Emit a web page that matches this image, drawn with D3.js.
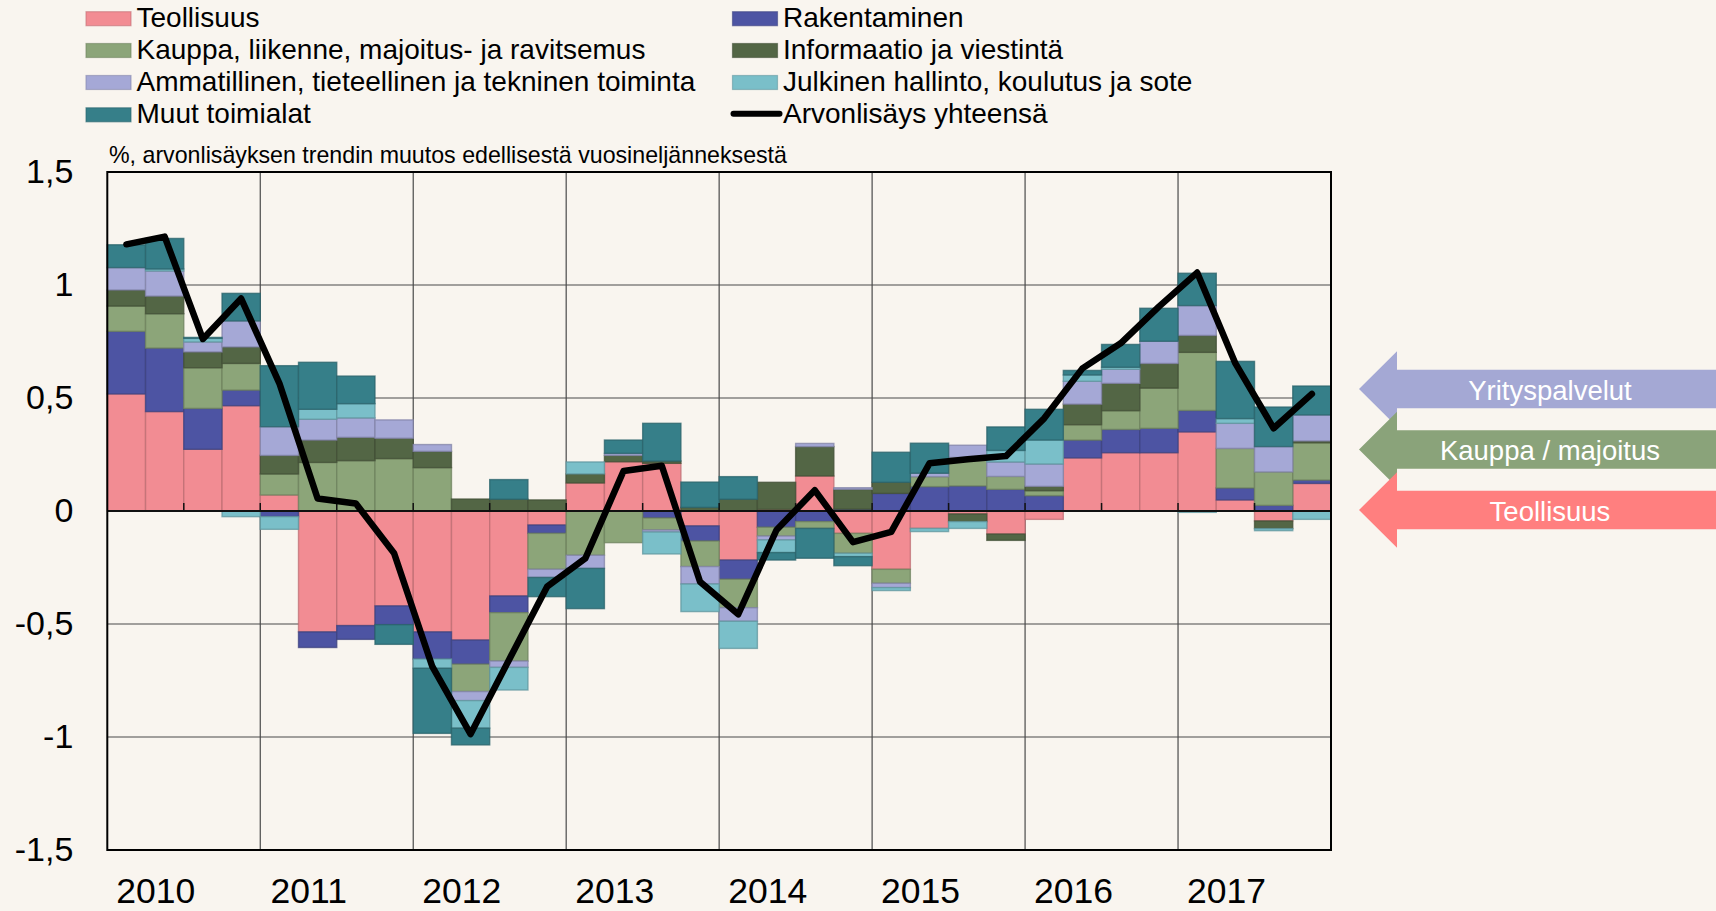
<!DOCTYPE html>
<html><head><meta charset="utf-8">
<script src="https://cdn.jsdelivr.net/npm/d3@7"></script>
<style>
body{margin:0;background:#F9F5EF}
svg{display:block}
text{font-family:"Liberation Sans",Arial,sans-serif;fill:#000}
</style>
</head><body>
<svg id="c" width="1716" height="911"></svg>
<script>
// ---- data ----
const years = ["2010","2011","2012","2013","2014","2015","2016","2017"];
const quarters = years.flatMap(y => ["Q1","Q2","Q3","Q4"].map(q => y + q));

const seriesNames = [
  "Teollisuus",
  "Rakentaminen",
  "Kauppa, liikenne, majoitus- ja ravitsemus",
  "Informaatio ja viestintä",
  "Ammatillinen, tieteellinen ja tekninen toiminta",
  "Julkinen hallinto, koulutus ja sote",
  "Muut toimialat"
];
const lineName = "Arvonlisäys yhteensä";

const teollisuus   = [0.518,0.44,0.273,0.466,0.071,-0.535,-0.507,-0.42,-0.535,-0.571,-0.376,-0.062,0.124,0.218,0.211,-0.066,-0.217,0.007,0.155,-0.099,-0.258,-0.077,-0.013,-0.102,-0.037,0.235,0.258,0.258,0.35,0.049,-0.044,0.122];
const rakentaminen = [0.277,0.281,0.181,0.069,-0.025,-0.069,-0.061,-0.083,-0.12,-0.107,-0.074,-0.037,0,0,-0.031,-0.067,-0.085,-0.072,-0.047,0.008,0.078,0.108,0.111,0.096,0.068,0.079,0.103,0.108,0.095,0.053,0.025,0.015];
const kauppa       = [0.112,0.152,0.18,0.118,0.093,0.215,0.223,0.232,0.192,-0.121,-0.214,-0.159,-0.196,-0.14,-0.053,-0.113,-0.126,-0.039,-0.03,-0.088,-0.062,0.044,0.126,0.057,0.022,0.068,0.083,0.178,0.257,0.175,0.148,0.165];
const informaatio  = [0.071,0.078,0.07,0.073,0.082,0.099,0.103,0.09,0.072,0.053,0.052,0.049,0.04,0.028,0.01,0.016,0.052,0.12,0.13,0.088,0.049,0,-0.034,-0.028,0.019,0.091,0.121,0.109,0.075,0,-0.034,0.008];
const ammatillinen = [0.099,0.111,0.044,0.115,0.127,0.092,0.086,0.081,0.03,-0.04,-0.028,-0.036,-0.058,0.009,-0.009,-0.077,-0.06,-0.017,0.014,0.007,-0.019,0.015,0.054,0.064,0.099,0.101,0.062,0.098,0.132,0.111,0.112,0.115];
const julkinen     = [0,0.009,0.016,-0.025,-0.056,0.044,0.063,0,-0.041,-0.122,-0.1,0,0.053,0,-0.097,-0.122,-0.12,-0.056,0,-0.015,-0.013,-0.014,-0.03,0.051,0.106,0.028,0.009,0,-0.006,0.021,-0.009,-0.037];
const muut         = [0.101,0.135,0.004,0.122,0.27,0.208,0.122,-0.087,-0.288,-0.074,0.087,-0.085,-0.178,0.059,0.167,0.112,0.1,-0.033,-0.132,-0.04,0.133,0.133,0,0.104,0.136,0.02,0.101,0.146,0.143,0.253,0.175,0.128];
const yhteensa     = [1.18,1.214,0.761,0.94,0.565,0.055,0.033,-0.187,-0.689,-0.987,-0.66,-0.335,-0.21,0.177,0.2,-0.313,-0.457,-0.084,0.092,-0.138,-0.092,0.211,0.229,0.243,0.41,0.631,0.742,0.904,1.055,0.653,0.366,0.518];

const yTicks = [-1.5,-1,-0.5,0,0.5,1,1.5];
const arrowLabels = ["Yrityspalvelut","Kauppa / majoitus","Teollisuus"];
const subtitle = "%, arvonlisäyksen trendin muutos edellisestä vuosineljänneksestä";

// ---- styles ----
const colors = ["#F28C93","#4D54A3","#8CA579","#536645","#A5A8D6","#7ABFC9","#367F89"];
const arrowColors = ["#A4A8D4","#8AA37A","#FF7F7F"];

const svg = d3.select("#c");
svg.append("rect").attr("width",1716).attr("height",911).attr("fill","#F9F5EF");

const L = 107.3, R = 1331, T = 172, B = 850;
const x = d3.scaleBand().domain(quarters).range([L, R]).padding(0);
const y = d3.scaleLinear().domain([-1.5, 1.5]).range([B, T]);
const fmt = v => String(v).replace(".", ",");

// gridlines
const grid = svg.append("g");
grid.selectAll("line.h").data(yTicks.filter(v => v > -1.5 && v < 1.5)).join("line")
  .attr("x1", L).attr("x2", R).attr("y1", d => y(d)).attr("y2", d => y(d))
  .attr("stroke", "#4a4a4a").attr("stroke-width", 1.2);
grid.selectAll("line.v").data(years.slice(1)).join("line")
  .attr("x1", d => x(d + "Q1")).attr("x2", d => x(d + "Q1"))
  .attr("y1", T).attr("y2", B)
  .attr("stroke", "#4a4a4a").attr("stroke-width", 1.2);

// stacked bars
const keys = seriesNames;
const cols = [teollisuus, rakentaminen, kauppa, informaatio, ammatillinen, julkinen, muut];
const table = quarters.map((q, i) => {
  const o = {q};
  keys.forEach((k, j) => o[k] = cols[j][i]);
  return o;
});
const stacked = d3.stack().keys(keys).offset(d3.stackOffsetDiverging)(table);

const barsG = svg.append("g");
stacked.forEach((s, si) => {
  const c = colors[si];
  barsG.append("g").selectAll("rect")
    .data(s.filter(d => Math.abs(d[1] - d[0]) > 1e-9))
    .join("rect")
    .attr("x", d => x(d.data.q))
    .attr("width", x.bandwidth())
    .attr("y", d => y(Math.max(d[0], d[1])))
    .attr("height", d => Math.abs(y(d[0]) - y(d[1])))
    .attr("fill", c)
    .attr("stroke", d3.color(c).darker(0.7))
    .attr("stroke-opacity", 0.75)
    .attr("stroke-width", 1.4);
});

// zero axis with ticks
svg.append("line").attr("x1", L).attr("x2", R).attr("y1", y(0)).attr("y2", y(0))
  .attr("stroke", "#111").attr("stroke-width", 2);
svg.append("g").selectAll("line").data(quarters.filter((q, i) => i > 0 && i % 2 === 0)).join("line")
  .attr("x1", d => x(d)).attr("x2", d => x(d))
  .attr("y1", y(0)).attr("y2", y(0) - 8)
  .attr("stroke", "#111").attr("stroke-width", 1.5);

// total line
const line = d3.line().x((d, i) => x(quarters[i]) + x.bandwidth() / 2).y(d => y(d));
svg.append("path").datum(yhteensa).attr("d", line)
  .attr("fill", "none").attr("stroke", "#000").attr("stroke-width", 6.5)
  .attr("stroke-linejoin", "round").attr("stroke-linecap", "round");

// frame
svg.append("rect").attr("x", L).attr("y", T).attr("width", R - L).attr("height", B - T)
  .attr("fill", "none").attr("stroke", "#000").attr("stroke-width", 2);

// y axis labels
const yAxis = svg.append("g").attr("transform", `translate(${L},0)`)
  .call(d3.axisLeft(y).tickValues(yTicks).tickFormat(fmt).tickSize(0).tickPadding(34));
yAxis.select(".domain").remove();
yAxis.selectAll("text").attr("font-size", 34).attr("font-family", '"Liberation Sans",Arial,sans-serif').attr("fill", "#000");

// x axis (years)
const xYear = d3.scaleBand().domain(years).range([L, R]);
const xAxis = svg.append("g").attr("transform", `translate(0,${B})`)
  .call(d3.axisBottom(xYear).tickSize(0).tickPadding(0));
xAxis.select(".domain").remove();
xAxis.selectAll("text").attr("font-size", 35.5).attr("font-family", '"Liberation Sans",Arial,sans-serif')
  .attr("fill", "#000").attr("dy", null).attr("y", 53).attr("x", -28);

// subtitle
svg.append("text").attr("x", 109).attr("y", 163).attr("font-size", 23.2).text(subtitle);

// legend
const legendItems = [
  {name: seriesNames[0], c: colors[0], col: 0, row: 0},
  {name: seriesNames[1], c: colors[1], col: 1, row: 0},
  {name: seriesNames[2], c: colors[2], col: 0, row: 1},
  {name: seriesNames[3], c: colors[3], col: 1, row: 1},
  {name: seriesNames[4], c: colors[4], col: 0, row: 2},
  {name: seriesNames[5], c: colors[5], col: 1, row: 2},
  {name: seriesNames[6], c: colors[6], col: 0, row: 3},
  {name: lineName, c: null, col: 1, row: 3}
];
const colX = [86, 732.5];
const rowBase = [26.7, 58.5, 90.5, 122.8];
const lg = svg.append("g");
legendItems.forEach(it => {
  const x0 = colX[it.col], b = rowBase[it.row];
  if (it.c) {
    lg.append("rect").attr("x", x0).attr("y", b - 15).attr("width", 45).attr("height", 14)
      .attr("fill", it.c).attr("stroke", d3.color(it.c).darker(0.6)).attr("stroke-opacity", 0.6).attr("stroke-width", 1.2);
  } else {
    lg.append("line").attr("x1", x0 + 1).attr("x2", x0 + 47).attr("y1", b - 9).attr("y2", b - 9)
      .attr("stroke", "#000").attr("stroke-width", 6).attr("stroke-linecap", "round");
  }
  lg.append("text").attr("x", x0 + 50.5).attr("y", b).attr("font-size", 28).text(it.name);
});

// arrows
const arrowCenters = [389, 449.5, 510];
const tipX = 1359, headX = 1397, headH = 37.7, bodyH = 19.3, endX = 1716;
arrowLabels.forEach((lab, i) => {
  const c = arrowCenters[i];
  const pts = [[tipX, c], [headX, c - headH], [headX, c - bodyH], [endX, c - bodyH],
               [endX, c + bodyH], [headX, c + bodyH], [headX, c + headH]];
  svg.append("path").attr("d", "M" + pts.map(p => p.join(",")).join("L") + "Z").attr("fill", arrowColors[i]);
  svg.append("text").attr("x", 1550).attr("y", c + 10.5).attr("text-anchor", "middle")
    .attr("font-size", 27.5).style("fill", "#fff").text(lab);
});
</script>
</body></html>
